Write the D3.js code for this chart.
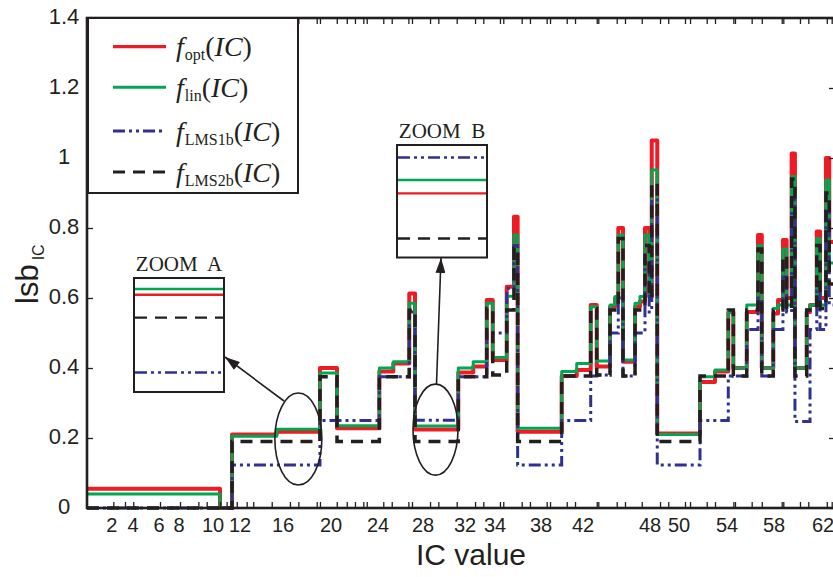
<!DOCTYPE html>
<html>
<head>
<meta charset="utf-8">
<script src="https://cdn.jsdelivr.net/npm/d3@7"></script>
<style>
  html, body { margin: 0; padding: 0; background: #fff; }
  svg { display: block; }
</style>
</head>
<body>
<svg id="chart" width="833" height="577"></svg>
<script>
// ---- data -------------------------------------------------------------
// Start of each constant segment on the IC axis; every series holds one value per segment.
const segStart = [-0.32, 10.52, 11.41, 15.41, 19.08, 20.51, 24.12, 25.36, 26.78, 27.29,
  31.36, 32.55, 33.45, 33.85, 35.02, 35.65, 35.97, 39.97, 41.4, 42.69,
  43.23, 44.42, 44.87, 45.16, 45.58, 46.66, 47.1, 47.55, 47.93, 48.12,
  48.5, 51.75, 53.0, 54.11, 54.54, 55.68, 56.64, 56.96, 57.94, 58.33,
  58.73, 59.03, 59.44, 59.71, 60.67, 60.94, 61.49, 61.76, 62.24, 62.51];
const segEnd = 62.98;

const fOpt = [0.055, 0, 0.21, 0.218, 0.40, 0.228, 0.39, 0.413, 0.613, 0.224,
  0.387, 0.404, 0.594, 0.423, 0.632, 0.832, 0.218, 0.377, 0.394, 0.58,
  0.404, 0.575, 0.60, 0.80, 0.418, 0.575, 0.59, 0.80, 0.604, 1.05,
  0.213, 0.36, 0.39, 0.56, 0.40, 0.56, 0.78, 0.40, 0.556, 0.594,
  0.766, 0.60, 1.013, 0.40, 0.56, 0.58, 0.79, 0.60, 1.0, 0.76];

const fLin = [0.04, 0, 0.205, 0.225, 0.386, 0.235, 0.40, 0.418, 0.585, 0.234,
  0.40, 0.418, 0.585, 0.43, 0.605, 0.78, 0.228, 0.39, 0.413, 0.575,
  0.42, 0.58, 0.604, 0.78, 0.423, 0.585, 0.604, 0.78, 0.604, 0.966,
  0.21, 0.375, 0.394, 0.56, 0.40, 0.58, 0.75, 0.40, 0.57, 0.58,
  0.74, 0.58, 0.947, 0.40, 0.566, 0.58, 0.77, 0.58, 0.937, 0.70];

const fLms1b = [0, 0, 0.123, 0.123, 0.25, 0.25, 0.375, 0.375, 0.56, 0.251,
  0.375, 0.375, 0.5, 0.5, 0.628, 0.75, 0.123, 0.25, 0.25, 0.377,
  0.38, 0.5, 0.5, 0.6, 0.377, 0.5, 0.5, 0.7, 0.56, 0.88,
  0.123, 0.25, 0.25, 0.377, 0.377, 0.51, 0.6, 0.377, 0.51, 0.51,
  0.66, 0.56, 0.88, 0.247, 0.247, 0.51, 0.62, 0.51, 0.85, 0.58];

const fLms2b = [0, 0, 0.19, 0.19, 0.375, 0.19, 0.375, 0.375, 0.565, 0.19,
  0.375, 0.375, 0.57, 0.38, 0.566, 0.742, 0.19, 0.377, 0.377, 0.57,
  0.38, 0.566, 0.566, 0.77, 0.377, 0.566, 0.566, 0.75, 0.6, 0.928,
  0.19, 0.377, 0.377, 0.566, 0.377, 0.566, 0.74, 0.377, 0.566, 0.566,
  0.72, 0.566, 0.94, 0.377, 0.566, 0.566, 0.75, 0.57, 0.90, 0.64];

const legendSubs = ["opt", "lin", "LMS1b", "LMS2b"];

const xTickLabels = [2, 4, 6, 8, 10, 12, 16, 20, 24, 28, 32, 34, 38, 42, 48, 50, 54, 58, 62];
const xMinorTicks = [2.15, 3.25, 4.02, 6.1, 8.06, 9.14, 9.63, 10.52, 11.01, 11.39,
  11.76, 12.62, 13.23, 14.95, 16.58, 17.28, 18.81, 19.08, 20.49, 21.34,
  22.04, 22.75, 23.04, 24.47, 25.22, 26.7, 27.02, 28.67, 29.46, 31.21,
  32.67, 33.22, 34.43, 34.72, 36.32, 37.04, 38.54, 38.86, 40.45, 41.24,
  43.23, 43.37, 45.02, 45.76, 47.26, 48.69, 49.26, 50.5, 50.92, 52.31,
  53.0, 54.54, 54.68, 56.1, 56.96, 58.63, 58.76, 60.12, 60.8, 62.31, 62.71];
const yTicks = [0, 0.2, 0.4, 0.6, 0.8, 1, 1.2, 1.4];

// IC positions highlighted by the two magnified views
const zoomA_IC = 17.28;
const zoomB_IC = 29.19;

// ---- layout ------------------------------------------------------------
const plot = { left: 87, right: 835, top: 18, bottom: 508 };
const sans = "'Liberation Sans', Arial, Helvetica, sans-serif";
const serif = "'Liberation Serif', 'Times New Roman', Times, serif";
const INK = "#231f20";

// The IC axis is not uniform: each labelled value has its own screen position.
const x = d3.scaleLinear()
  .domain(xTickLabels)
  .range([111.7, 133, 159, 179, 213, 240, 283, 331, 378, 423, 465, 495, 541, 583, 650, 679, 727, 774, 823]);
const y = d3.scaleLinear().domain([0, 1.4]).range([plot.bottom, plot.top]);

const series = [
  { sub: legendSubs[0], values: fOpt,   color: "#ed1c24", width: 4,   dash: null },
  { sub: legendSubs[1], values: fLin,   color: "#00a651", width: 3,   dash: null },
  { sub: legendSubs[2], values: fLms1b, color: "#2e3192", width: 3,   dash: "12,4,3,4,3,4" },
  { sub: legendSubs[3], values: fLms2b, color: INK,       width: 3.5, dash: "12,8" }
];

const svg = d3.select("#chart");
svg.append("rect").attr("width", 833).attr("height", 577).attr("fill", "#fff");

// ---- step curves --------------------------------------------------------
const stepLine = d3.line()
  .x(d => x(d[0]))
  .y(d => y(d[1]))
  .curve(d3.curveStepAfter);

const curves = svg.append("g").attr("class", "curves");
series.forEach(s => {
  const pts = segStart.map((st, i) => [st, s.values[i]]);
  pts.push([segEnd, s.values[s.values.length - 1]]);
  curves.append("path")
    .datum(pts)
    .attr("d", stepLine)
    .attr("fill", "none")
    .attr("stroke", s.color)
    .attr("stroke-width", s.width)
    .attr("stroke-linejoin", s.dash ? "miter" : "round")
    .attr("stroke-dasharray", s.dash);
});

// ---- axes box and ticks -------------------------------------------------
const axes = svg.append("g").attr("class", "axes");

const gxb = axes.append("g").attr("transform", `translate(0,${plot.bottom})`)
  .call(d3.axisBottom(x).tickValues(xMinorTicks).tickFormat("").tickSizeInner(-6).tickSizeOuter(0));
const gxt = axes.append("g").attr("transform", `translate(0,${plot.top})`)
  .call(d3.axisTop(x).tickValues(xMinorTicks).tickFormat("").tickSizeInner(-6).tickSizeOuter(0));
const gyl = axes.append("g").attr("transform", `translate(${plot.left},0)`)
  .call(d3.axisLeft(y).tickValues(yTicks).tickFormat("").tickSizeInner(-6).tickSizeOuter(0));
const gyr = axes.append("g").attr("transform", `translate(${plot.right},0)`)
  .call(d3.axisRight(y).tickValues(yTicks).tickFormat("").tickSizeInner(-6).tickSizeOuter(0));
[gxb, gxt, gyl, gyr].forEach(g => {
  g.select(".domain").remove();
  g.selectAll(".tick line").attr("stroke", INK).attr("stroke-width", 1.3);
});

axes.append("rect")
  .attr("x", plot.left).attr("y", plot.top)
  .attr("width", plot.right - plot.left).attr("height", plot.bottom - plot.top)
  .attr("fill", "none").attr("stroke", INK).attr("stroke-width", 2.6);

// tick labels
axes.append("g").selectAll("text").data(xTickLabels).join("text")
  .attr("x", d => x(d)).attr("y", 532)
  .attr("text-anchor", "middle")
  .attr("font-family", sans).attr("font-size", 20).attr("fill", INK)
  .text(d => d);

axes.append("g").selectAll("text").data(yTicks).join("text")
  .attr("x", 64).attr("y", d => y(d) + 6)
  .attr("text-anchor", "middle")
  .attr("font-family", sans).attr("font-size", 22).attr("fill", INK)
  .text(d => d3.format("~g")(d));

// axis titles
svg.append("text")
  .attr("x", 471).attr("y", 565)
  .attr("text-anchor", "middle")
  .attr("font-family", sans).attr("font-size", 30).attr("fill", INK)
  .text("IC value");

const yTitle = svg.append("text")
  .attr("transform", "translate(38,304) rotate(-90)")
  .attr("font-family", sans).attr("fill", INK);
yTitle.append("tspan").attr("font-size", 31).text("lsb");
yTitle.append("tspan").attr("font-size", 16).attr("dx", 4).attr("dy", 6).text("IC");

// ---- legend -------------------------------------------------------------
const legend = svg.append("g").attr("class", "legend");
legend.append("rect")
  .attr("x", 88).attr("y", 18).attr("width", 210).attr("height", 175)
  .attr("fill", "#fff").attr("stroke", INK).attr("stroke-width", 2);

const legendRowY = [46.7, 87.3, 131, 172];
series.forEach((s, i) => {
  const ly = legendRowY[i];
  legend.append("line")
    .attr("x1", 113).attr("x2", 166).attr("y1", ly).attr("y2", ly)
    .attr("stroke", s.color).attr("stroke-width", Math.min(s.width, 3.2))
    .attr("stroke-dasharray", s.dash);
  const t = legend.append("text")
    .attr("x", 176).attr("y", ly + 9.5)
    .attr("font-family", serif).attr("fill", INK);
  t.append("tspan").attr("font-size", 28).attr("font-style", "italic").text("f");
  t.append("tspan").attr("font-size", 16).attr("dx", 1).attr("dy", 4).text(s.sub);
  t.append("tspan").attr("font-size", 28).attr("dy", -4).text("(");
  t.append("tspan").attr("font-size", 28).attr("font-style", "italic").text("IC");
  t.append("tspan").attr("font-size", 28).text(")");
});

// ---- magnified views ----------------------------------------------------
function valueAt(values, ic) {
  const i = d3.bisectRight(segStart, ic) - 1;
  return values[Math.max(0, i)];
}

const annot = svg.append("g").attr("class", "annotations");
const defs = svg.append("defs");
defs.append("marker")
  .attr("id", "arrowhead")
  .attr("markerUnits", "userSpaceOnUse")
  .attr("markerWidth", 16).attr("markerHeight", 10)
  .attr("refX", 15).attr("refY", 5)
  .attr("orient", "auto")
  .append("path").attr("d", "M0,0 L15,5 L0,10 Z").attr("fill", INK);

function zoomView(opts) {
  const samples = series.map(s => valueAt(s.values, opts.ic));
  const ext = d3.extent(samples);
  const zy = d3.scaleLinear().domain(ext).range([opts.bottomLine, opts.topLine]);
  const g = annot.append("g");
  g.append("text")
    .attr("x", (opts.x0 + opts.x1) / 2).attr("y", opts.y0 - 7)
    .attr("text-anchor", "middle")
    .attr("font-family", serif).attr("font-size", 21).attr("fill", INK)
    .text(opts.title);
  g.append("rect")
    .attr("x", opts.x0).attr("y", opts.y0)
    .attr("width", opts.x1 - opts.x0).attr("height", opts.y1 - opts.y0)
    .attr("fill", "#fff").attr("stroke", INK).attr("stroke-width", 2);
  series.forEach((s, i) => {
    g.append("line")
      .attr("x1", opts.x0 + 1).attr("x2", opts.x1 - 1)
      .attr("y1", zy(samples[i])).attr("y2", zy(samples[i]))
      .attr("stroke", s.color).attr("stroke-width", 2.4)
      .attr("stroke-dasharray", s.dash);
  });
  // ellipse around the magnified stretch of the curves
  g.append("ellipse")
    .attr("cx", x(opts.ic)).attr("cy", y(opts.ellipseCenter))
    .attr("rx", opts.rx).attr("ry", opts.ry)
    .attr("fill", "none").attr("stroke", INK).attr("stroke-width", 1.6);
  g.append("line")
    .attr("x1", opts.arrowFrom[0]).attr("y1", opts.arrowFrom[1])
    .attr("x2", opts.arrowTo[0]).attr("y2", opts.arrowTo[1])
    .attr("stroke", INK).attr("stroke-width", 1.6)
    .attr("marker-end", "url(#arrowhead)");
}

zoomView({
  title: "ZOOM\u00a0 A", ic: zoomA_IC,
  x0: 134, x1: 224, y0: 278, y1: 392,
  topLine: 289, bottomLine: 372.5,
  ellipseCenter: 0.197, rx: 23.5, ry: 46,
  arrowFrom: [284, 401], arrowTo: [225, 357]
});

zoomView({
  title: "ZOOM\u00a0 B", ic: zoomB_IC,
  x0: 397, x1: 487, y0: 145, y1: 257.5,
  topLine: 157.5, bottomLine: 238.5,
  ellipseCenter: 0.224, rx: 22.5, ry: 45.5,
  arrowFrom: [436.5, 384], arrowTo: [441, 258]
});
</script>
</body>
</html>
